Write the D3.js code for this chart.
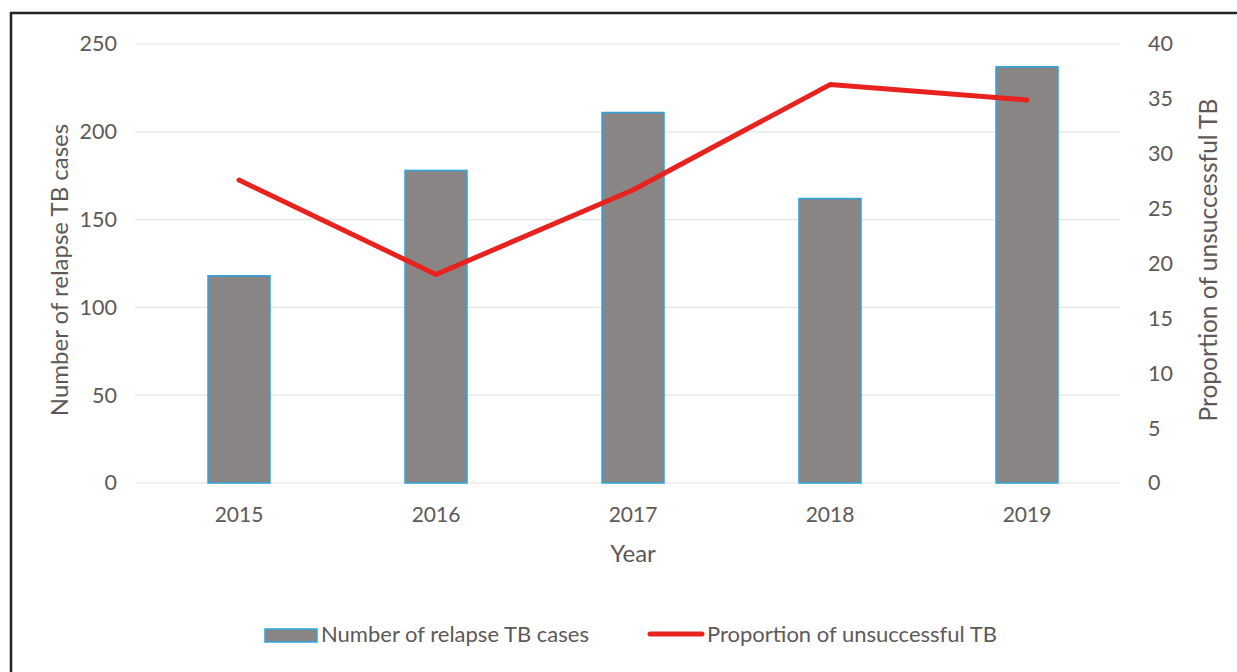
<!DOCTYPE html>
<html><head><meta charset="utf-8">
<script src="https://cdn.jsdelivr.net/npm/d3@7"></script>
<style>body{margin:0;background:#fff}svg{display:block}text{font-family:Lato,"Open Sans",sans-serif;fill:#5e5858}</style>
</head><body><svg id="c" width="1237" height="672"></svg>
<script>
const years = ["2015","2016","2017","2018","2019"];
const relapseCases = [118, 178, 211, 162, 237];
const unsuccessfulPct = [27.6, 19.0, 26.7, 36.3, 34.9];
const leftTicks = [0,50,100,150,200,250];
const rightTicks = [0,5,10,15,20,25,30,35,40];

const svg = d3.select("#c");
svg.append("rect").attr("x",0).attr("y",0).attr("width",1237).attr("height",672).attr("fill","#fff");
// frame
svg.append("path").attr("d","M11,672 V13 H1237").attr("fill","none").attr("stroke","#222").attr("stroke-width",2.5);

const x = d3.scaleBand().domain(years).range([140.5,1125.5]).paddingInner(0.68).paddingOuter(0.34);
const yL = d3.scaleLinear().domain([0,250]).range([483,44]);
const yR = d3.scaleLinear().domain([0,40]).range([483,44]);

// gridlines
svg.append("g").selectAll("line").data(leftTicks).join("line")
  .attr("x1",135).attr("x2",1120).attr("y1",d=>yL(d)).attr("y2",d=>yL(d))
  .attr("stroke","#e3e3e3").attr("stroke-width",1.2);

const tickStyle = g => g.selectAll("text").attr("font-size",21.5).style("fill","#5e5858").style("font-family","Lato");

// left axis
const gl = svg.append("g").attr("transform","translate(120,0)")
  .call(d3.axisLeft(yL).tickValues(leftTicks).tickSize(0).tickPadding(3));
gl.select(".domain").remove();
tickStyle(gl);

// right axis
const gr = svg.append("g").attr("transform","translate(1145,0)")
  .call(d3.axisRight(yR).tickValues(rightTicks).tickSize(0).tickPadding(3));
gr.select(".domain").remove();
tickStyle(gr);

// x axis
const gx = svg.append("g").attr("transform","translate(0,483)")
  .call(d3.axisBottom(x).tickSize(0).tickPadding(24));
gx.select(".domain").remove();
gx.selectAll("text").attr("font-size",21).style("fill","#5e5858").style("font-family","Lato");

// bars
const bw = 62;
svg.append("g").selectAll("rect").data(years).join("rect")
  .attr("x",(d)=>x(d)+x.bandwidth()/2-bw/2).attr("width",bw)
  .attr("y",(d,i)=>yL(relapseCases[i])).attr("height",(d,i)=>yL(0)-yL(relapseCases[i]))
  .attr("fill","#8a8585").attr("stroke","#2aa6dd").attr("stroke-width",1.5);

// line
const line = d3.line().x(d=>x(d.y)+x.bandwidth()/2).y(d=>yR(d.v));
svg.append("path").datum(years.map((y,i)=>({y,v:unsuccessfulPct[i]})))
  .attr("d",line).attr("fill","none").attr("stroke","#e8231f").attr("stroke-width",5).attr("stroke-linecap","round").attr("stroke-linejoin","round");

// axis titles
svg.append("text").attr("transform","translate(60,270) rotate(-90)").attr("dy","0.35em").attr("text-anchor","middle")
  .attr("font-size",24).text("Number of relapse TB cases");
svg.append("text").attr("transform","translate(1208,260) rotate(-90)").attr("dy","0.35em").attr("text-anchor","middle")
  .attr("font-size",24.5).text("Proportion of unsuccessful TB");
svg.append("text").attr("x",633).attr("y",562).attr("text-anchor","middle").attr("font-size",24).text("Year");

// legend
svg.append("rect").attr("x",265).attr("y",629).attr("width",52).attr("height",13)
  .attr("fill","#8a8585").attr("stroke","#2aa6dd").attr("stroke-width",1.5);
svg.append("text").attr("x",321).attr("y",642).attr("font-size",22).text("Number of relapse TB cases");
svg.append("line").attr("x1",650).attr("x2",702).attr("y1",634).attr("y2",634)
  .attr("stroke","#e8231f").attr("stroke-width",5).attr("stroke-linecap","round");
svg.append("text").attr("x",707).attr("y",642).attr("font-size",22).text("Proportion of unsuccessful TB");
</script></body></html>
